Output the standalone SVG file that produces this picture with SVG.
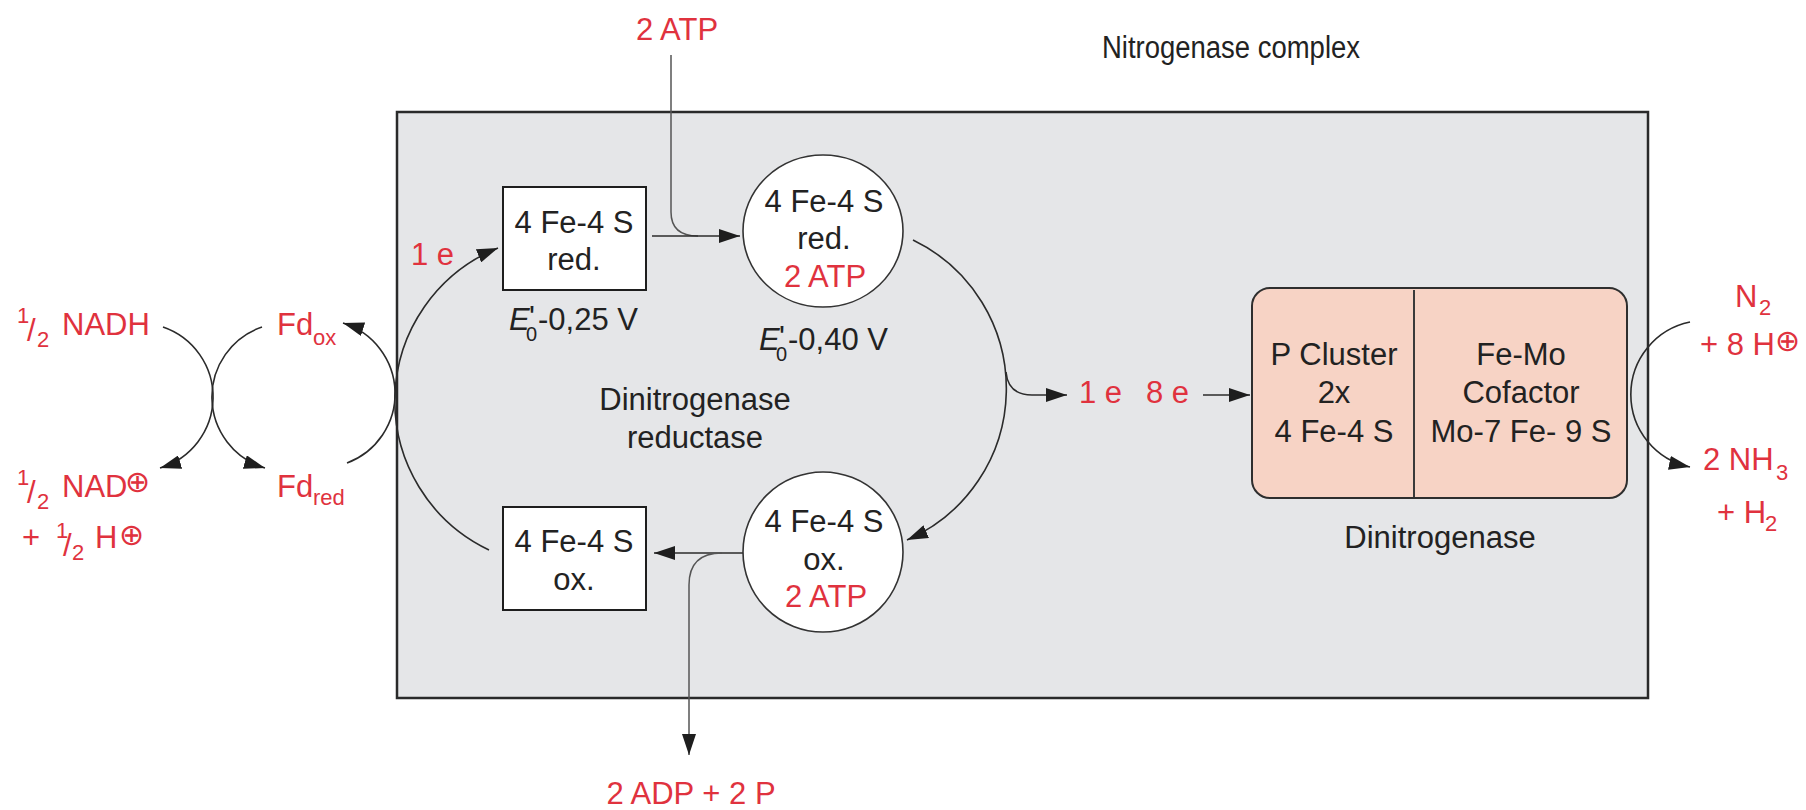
<svg xmlns="http://www.w3.org/2000/svg" width="1806" height="810" viewBox="0 0 1806 810">
<style>
.t{font-family:"Liberation Sans",Arial,Helvetica,sans-serif;font-size:31px;fill:#222}
.r{fill:#e0323e}
.c{text-anchor:middle}
.sym{font-family:"DejaVu Sans",sans-serif}
.ln{fill:none;stroke:#2b2b2b;stroke-width:1.6}
.lg{fill:none;stroke:#555;stroke-width:1.5}
.box{fill:#fff;stroke:#1e1e1e;stroke-width:2}
.cir{fill:#fff;stroke:#333;stroke-width:1.6}
</style>
<defs>
<marker id="ah" markerUnits="userSpaceOnUse" markerWidth="22" markerHeight="14" refX="21" refY="7" orient="auto">
<path d="M0,0 L21,7 L0,14 Z" fill="#1e1e1e"/>
</marker>
</defs>
<rect width="1806" height="810" fill="#fff"/>

<g id="complex">
<rect x="397" y="112" width="1251" height="586" fill="#e5e6e8" stroke="#2a2a2a" stroke-width="2.5"/>
<text class="t c" x="1231" y="58" font-size="30" textLength="258" lengthAdjust="spacingAndGlyphs">Nitrogenase complex</text>
<text class="t c" x="695" y="410">Dinitrogenase</text>
<text class="t c" x="695" y="448">reductase</text>
</g>

<g id="connectors">
<path class="lg" d="M671,55 L671,212 Q671,236 698,236"/>
<path class="ln" d="M652,236 L740,236" marker-end="url(#ah)"/>
<path class="ln" d="M913,240 A165,165 0 0 1 907,540" marker-end="url(#ah)"/>
<path class="ln" d="M1006,372 Q1008,395 1032,395 L1067,395" marker-end="url(#ah)"/>
<path class="ln" d="M1203,395 L1250,395" marker-end="url(#ah)"/>
<path class="ln" d="M744,553 L654,553" marker-end="url(#ah)"/>
<path class="lg" d="M722,553 Q689,553 689,585 L689,755" marker-end="url(#ah)"/>
<path class="ln" d="M489,550 A165,165 0 0 1 498,248" marker-end="url(#ah)"/>
<path class="ln" d="M347,463 A74,74 0 0 0 343,323" marker-end="url(#ah)"/>
<path class="ln" d="M163,327 A74,74 0 0 1 160,468" marker-end="url(#ah)"/>
<path class="ln" d="M262,327 A74,74 0 0 0 265,468" marker-end="url(#ah)"/>
<path class="ln" d="M1690,322 A74,74 0 0 0 1690,467" marker-end="url(#ah)"/>
</g>

<g id="atp-in"><text class="t r c" x="677" y="40">2 ATP</text></g>
<g id="adp-out"><text class="t r c" x="691" y="804">2 ADP + 2 P</text></g>

<g id="box-red">
<rect class="box" x="503" y="187" width="143" height="103"/>
<text class="t c" x="574" y="233">4 Fe-4 S</text>
<text class="t c" x="574" y="270">red.</text>
</g>
<g id="e-red"><text class="t"><tspan x="509" y="330" font-style="italic">E</tspan><tspan x="526" y="341" font-size="20">0</tspan><tspan x="529" y="328">'</tspan><tspan x="538" y="330">-0,25 V</tspan></text></g>

<g id="circle-red">
<ellipse class="cir" cx="823" cy="231" rx="80" ry="76"/>
<text class="t c" x="824" y="212">4 Fe-4 S</text>
<text class="t c" x="824" y="249">red.</text>
<text class="t c r" x="825" y="287">2 ATP</text>
</g>
<g id="e-circle"><text class="t"><tspan x="759" y="350" font-style="italic">E</tspan><tspan x="776" y="361" font-size="20">0</tspan><tspan x="779" y="348">'</tspan><tspan x="788" y="350">-0,40 V</tspan></text></g>

<g id="circle-ox">
<ellipse class="cir" cx="823" cy="552" rx="80" ry="80"/>
<text class="t c" x="824" y="532">4 Fe-4 S</text>
<text class="t c" x="824" y="570">ox.</text>
<text class="t c r" x="826" y="607">2 ATP</text>
</g>

<g id="box-ox">
<rect class="box" x="503" y="507" width="143" height="103"/>
<text class="t c" x="574" y="552">4 Fe-4 S</text>
<text class="t c" x="574" y="590">ox.</text>
</g>

<g id="label-1e"><text class="t r" x="411" y="265">1 e</text></g>
<g id="label-1e-8e"><text class="t r" x="1079" y="403">1 e</text><text class="t r" x="1146" y="403">8 e</text></g>

<g id="dinitrogenase">
<rect x="1252" y="288" width="375" height="210" rx="18" ry="18" fill="#f7d3c5" stroke="#2e2e2e" stroke-width="2"/>
<line x1="1414" y1="290" x2="1414" y2="497" stroke="#3a3a3a" stroke-width="2"/>
<text class="t c" x="1334" y="365">P Cluster</text>
<text class="t c" x="1334" y="403">2x</text>
<text class="t c" x="1334" y="442">4 Fe-4 S</text>
<text class="t c" x="1521" y="365">Fe-Mo</text>
<text class="t c" x="1521" y="403">Cofactor</text>
<text class="t c" x="1521" y="442">Mo-7 Fe- 9 S</text>
<text class="t c" x="1440" y="548">Dinitrogenase</text>
</g>

<g id="nadh"><text class="t r"><tspan x="17" y="323" font-size="22">1</tspan><tspan x="27" y="341">/</tspan><tspan x="37" y="347" font-size="22">2</tspan><tspan x="62" y="335">NADH</tspan></text></g>
<g id="nad"><text class="t r"><tspan x="17" y="485" font-size="22">1</tspan><tspan x="27" y="503">/</tspan><tspan x="37" y="509" font-size="22">2</tspan><tspan x="62" y="497">NAD</tspan><tspan class="sym" x="125" y="492" font-size="30">⊕</tspan></text>
<text class="t r"><tspan x="22" y="548">+</tspan><tspan x="56" y="538" font-size="22">1</tspan><tspan x="63" y="556">/</tspan><tspan x="72" y="560" font-size="22">2</tspan><tspan x="95" y="548">H</tspan><tspan class="sym" x="119" y="545" font-size="30">⊕</tspan></text></g>
<g id="fd-ox"><text class="t r"><tspan x="277" y="335">Fd</tspan><tspan x="313" y="345" font-size="22">ox</tspan></text></g>
<g id="fd-red"><text class="t r"><tspan x="277" y="497">Fd</tspan><tspan x="313" y="505" font-size="22">red</tspan></text></g>
<g id="n2"><text class="t r"><tspan x="1735" y="307">N</tspan><tspan x="1759" y="315" font-size="22">2</tspan></text>
<text class="t r"><tspan x="1700" y="355">+ 8 H</tspan><tspan class="sym" x="1775" y="351" font-size="30">⊕</tspan></text></g>
<g id="nh3"><text class="t r"><tspan x="1703" y="470">2 NH</tspan><tspan x="1776" y="480" font-size="22">3</tspan></text>
<text class="t r"><tspan x="1717" y="523">+ H</tspan><tspan x="1765" y="531" font-size="22">2</tspan></text></g>
</svg>
